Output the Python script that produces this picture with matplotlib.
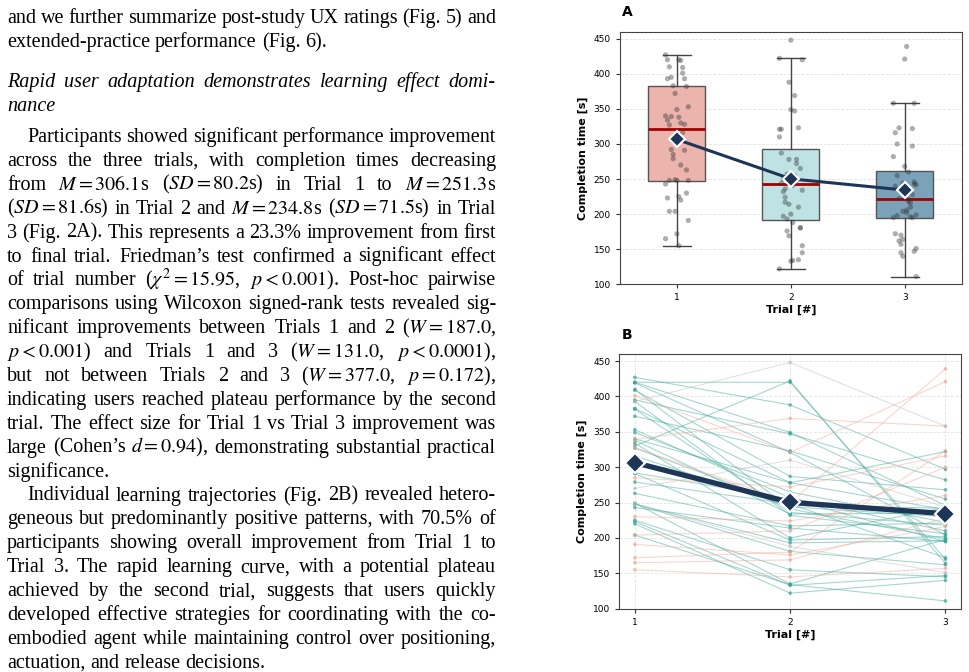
import matplotlib
matplotlib.use('Agg')
import matplotlib.pyplot as plt
from matplotlib.transforms import IdentityTransform
import numpy as np

plt.rcParams['mathtext.fontset'] = 'stix'

# Completion time [s] per participant and trial.
trials = [1, 2, 3]
trial_labels = ['1', '2', '3']
trial1 = [427, 420, 420, 419, 410, 409, 395, 393, 383, 382, 372, 353, 349, 340, 338, 334,
          330, 327, 316, 292, 291, 279, 263, 249, 248, 248, 243, 225, 223, 220, 204,
          401, 339, 328, 285, 230, 204, 191, 172, 165, 155,
          393, 270, 248]
trial2 = [388, 420, 349, 321, 241, 287, 347, 232, 278, 236, 323, 257, 265, 278, 234, 200,
          422, 246, 244, 255, 197, 248, 217, 135, 193, 181, 214, 155, 133, 122, 134,
          321, 369, 250, 272, 224, 210, 176, 180, 169, 145,
          448, 310, 188]
trial3 = [297, 170, 246, 204, 199, 268, 282, 206, 240, 218, 255, 210, 222, 322, 235, 243,
          164, 242, 230, 195, 202, 172, 221, 198, 196, 162, 195, 145, 147, 140, 111,
          421, 358, 439, 316, 260, 300, 216, 323, 228, 157,
          358, 244, 151]
group = ['better'] * 31 + ['worse'] * 10 + ['mixed'] * 3

box_colors = ['#ebb4ad', '#bfe3e3', '#7aa2b9']
group_colors = {'better': '#3aa597', 'worse': '#f2a593', 'mixed': '#bdbdbd'}
navy = '#1d3557'

W, H = 969, 672
fig = plt.figure(figsize=(W / 100, H / 100), dpi=100)
renderer = fig.canvas.get_renderer()

# ---------------- left text column ----------------
FS = 14.5
X0, X1 = 7, 496


def put_line(s, yc, indent=0, justify=True, style='normal'):
    words = s.split(' ')
    items = [fig.text(0, 0, w, fontsize=FS, family='Liberation Serif', style=style,
                      transform=IdentityTransform(), va='baseline') for w in words]
    widths = [t.get_window_extent(renderer).width for t in items]
    x = X0 + indent
    if justify and len(words) > 1:
        gap = (X1 - x - sum(widths)) / (len(words) - 1)
    else:
        gap = FS * 100 / 72 * 0.25
    yb = H - yc - 5
    for t, w in zip(items, widths):
        t.set_position((x, yb))
        x += w + gap


put_line('and we further summarize post-study UX ratings (Fig. 5) and', 18)
put_line('extended-practice performance (Fig. 6).', 42, justify=False)
put_line('Rapid user adaptation demonstrates learning effect domi-', 82, style='italic')
put_line('nance', 106, justify=False, style='italic')

para = [
    ('Participants showed significant performance improvement', 20, True),
    ('across the three trials, with completion times decreasing', 0, True),
    ('from $M=306.1$s ($SD=80.2$s) in Trial 1 to $M=251.3$s', 0, True),
    ('($SD=81.6$s) in Trial 2 and $M=234.8$s ($SD=71.5$s) in Trial', 0, True),
    ('3 (Fig. 2A). This represents a 23.3% improvement from first', 0, True),
    ('to final trial. Friedman\u2019s test confirmed a significant effect', 0, True),
    ('of trial number ($\\chi^2=15.95$, $p<0.001$). Post-hoc pairwise', 0, True),
    ('comparisons using Wilcoxon signed-rank tests revealed sig-', 0, True),
    ('nificant improvements between Trials 1 and 2 ($W=187.0$,', 0, True),
    ('$p<0.001$) and Trials 1 and 3 ($W=131.0$, $p<0.0001$),', 0, True),
    ('but not between Trials 2 and 3 ($W=377.0$, $p=0.172$),', 0, True),
    ('indicating users reached plateau performance by the second', 0, True),
    ('trial. The effect size for Trial 1 vs Trial 3 improvement was', 0, True),
    ('large (Cohen\u2019s $d=0.94$), demonstrating substantial practical', 0, True),
    ('significance.', 0, False),
    ('Individual learning trajectories (Fig. 2B) revealed hetero-', 20, True),
    ('geneous but predominantly positive patterns, with 70.5% of', 0, True),
    ('participants showing overall improvement from Trial 1 to', 0, True),
    ('Trial 3. The rapid learning curve, with a potential plateau', 0, True),
    ('achieved by the second trial, suggests that users quickly', 0, True),
    ('developed effective strategies for coordinating with the co-', 0, True),
    ('embodied agent while maintaining control over positioning,', 0, True),
    ('actuation, and release decisions.', 0, False),
]
for i, (s, ind, just) in enumerate(para):
    put_line(s, 137 + i * 23.9, indent=ind, justify=just)

# ---------------- panel A: box plots ----------------
data = [trial1, trial2, trial3]
n = len(trial1)

axA = fig.add_axes([620 / W, 1 - 284.3 / H, 341.7 / W, (284.3 - 31.7) / H])
bp = axA.boxplot(data, positions=trials, widths=0.5, patch_artist=True, showfliers=False,
                 medianprops=dict(color='#a30000', linewidth=2),
                 whiskerprops=dict(color='#444444', linewidth=1),
                 capprops=dict(color='#444444', linewidth=1),
                 boxprops=dict(edgecolor='#555555', linewidth=1))
for patch, c in zip(bp['boxes'], box_colors):
    patch.set_facecolor(c)

for k, (pos, vals) in enumerate(zip(trials, data)):
    jit = (((np.arange(n) * 7 + k * 5) % 13) - 6) / 6 * 0.1
    axA.scatter(pos + jit, vals, s=14, color='#333333', alpha=0.4, edgecolors='none', zorder=3)

means = [np.mean(v) for v in data]
axA.plot(trials, means, color=navy, lw=2.2, marker='D', ms=8.5, mfc=navy, mec='white',
         mew=1.5, zorder=5)

axA.set_xlim(0.5, 3.5)
axA.set_ylim(100, 460)
axA.set_xticks(trials)
axA.set_xticklabels(trial_labels)
axA.set_yticks(np.arange(100, 451, 50))
axA.yaxis.grid(True, ls='--', color='#e3e3e3', lw=0.6)
axA.set_axisbelow(True)
axA.tick_params(labelsize=6.5, length=3, color='#333333')
axA.set_ylabel('Completion time [s]', fontsize=8, fontweight='bold')
axA.set_xlabel('Trial [#]', fontsize=8, fontweight='bold', labelpad=2)
for sp in axA.spines.values():
    sp.set_color('#444444')
fig.text(622 / W, 1 - 12 / H, 'A', fontsize=10, fontweight='bold', va='center')

# ---------------- panel B: individual trajectories ----------------
axB = fig.add_axes([619.3 / W, 1 - 608.7 / H, 341.7 / W, (608.7 - 354) / H])
for a, b, c, g in zip(trial1, trial2, trial3, group):
    col = group_colors[g]
    axB.plot(trials, [a, b, c], color=col, lw=0.8, alpha=0.45, zorder=2)
    axB.scatter(trials, [a, b, c], s=7, color=col, alpha=0.7, edgecolors='none', zorder=3)

axB.plot(trials, means, color=navy, lw=3.8, marker='D', ms=10, mfc=navy, mec='white',
         mew=1.5, zorder=5)

axB.set_xlim(0.9, 3.1)
axB.set_ylim(100, 460)
axB.set_xticks(trials)
axB.set_xticklabels(trial_labels)
axB.set_yticks(np.arange(100, 451, 50))
axB.grid(True, ls='--', color='#e3e3e3', lw=0.6)
axB.set_axisbelow(True)
axB.tick_params(labelsize=6.5, length=3, color='#333333')
axB.set_ylabel('Completion time [s]', fontsize=8, fontweight='bold')
axB.set_xlabel('Trial [#]', fontsize=8, fontweight='bold', labelpad=2)
for sp in axB.spines.values():
    sp.set_color('#444444')
fig.text(622 / W, 1 - 335 / H, 'B', fontsize=10, fontweight='bold', va='center')

fig.savefig('out.png', dpi=100)
